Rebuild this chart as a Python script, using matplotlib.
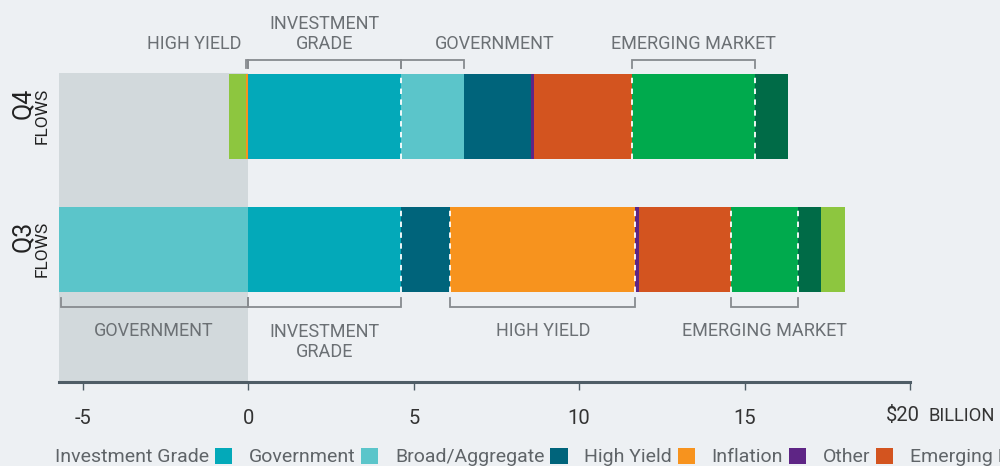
import matplotlib
matplotlib.use("Agg")
import matplotlib.pyplot as plt
from matplotlib.patches import Patch, Rectangle

# ---------------- data ----------------
quarters = ["Q3", "Q4"]
categories = ["Investment Grade", "Government", "Broad/Aggregate", "High Yield",
              "Inflation", "Other", "Emerging Market", "Municipal", "Bank Loan"]
q3_flows = [4.61, -5.72, 1.50, 5.59, 0.12, 2.76, 2.03, 0.70, 0.73]
q4_flows = [4.61, 1.90, 2.03, -0.08, 0.09, 2.96, 3.72, 1.00, -0.51]
x_ticks = [-5, 0, 5, 10, 15, 20]
x_tick_labels = ["-5", "0", "5", "10", "15", "$20"]
x_unit = "BILLION"
q3_groups = [("GOVERNMENT", "Government"), ("INVESTMENT\nGRADE", "Investment Grade"),
             ("HIGH YIELD", "High Yield"), ("EMERGING MARKET", "Emerging Market")]
q4_groups = [("HIGH YIELD", "High Yield"), ("INVESTMENT\nGRADE", "Investment Grade"),
             ("GOVERNMENT", "Government"), ("EMERGING MARKET", "Emerging Market")]
q3_dividers = ["Investment Grade", "Broad/Aggregate", "High Yield", "Other", "Emerging Market"]
q4_dividers = ["Investment Grade", "Other", "Emerging Market"]

# ---------------- style ----------------
colors = ["#03a9b9", "#5bc5ca", "#00647b", "#f7931e", "#5e2585",
          "#d3541f", "#00aa4d", "#006b47", "#8dc63f"]
BG = "#edf0f3"
SHADE = "#d2d9dc"
LABEL_C = "#6b7074"
BRACKET_C = "#878b8f"
AXIS_C = "#4f5d66"
TICK_C = "#333333"
LEG_C = "#5f6468"

plt.rcParams['font.family'] = ['Roboto', 'DejaVu Sans']

fig = plt.figure(figsize=(10, 4.66), dpi=100, facecolor=BG)
ax = fig.add_axes([0.059, (466 - 382) / 466, 0.851, 382 / 466])
ax.set_facecolor("none")

xmin, xmax = -5.72, 20
ax.set_xlim(xmin, xmax)
ax.set_ylim(-0.995, 1.873)
ybot = ax.get_ylim()[0]

bar_h = 0.64
ypos = {"Q3": 0, "Q4": 1}
flows = {"Q3": q3_flows, "Q4": q4_flows}
groups = {"Q3": q3_groups, "Q4": q4_groups}
dividers = {"Q3": q3_dividers, "Q4": q4_dividers}

# shaded negative region
ax.add_patch(Rectangle((xmin, ybot), -xmin, 1 + bar_h / 2 + 0.006 - ybot,
                       facecolor=SHADE, edgecolor="none", zorder=0))

segments = {}
for q in quarters:
    y = ypos[q]
    pos, neg = 0.0, 0.0
    segs = {}
    for cat, v, c in zip(categories, flows[q], colors):
        if v >= 0:
            left = pos
            pos += v
            segs[cat] = (left, pos)
        else:
            left = neg
            neg += v
            segs[cat] = (neg, left)
        ax.barh(y, v, left=left, height=bar_h, color=c, linewidth=0, zorder=2)
    segments[q] = segs

# dashed dividers
for q in quarters:
    y = ypos[q]
    for cat in dividers[q]:
        x = segments[q][cat][1]
        ax.plot([x, x], [y - bar_h / 2, y + bar_h / 2], color="white", lw=1.3,
                dashes=(3, 3), zorder=3, solid_capstyle="butt")

# brackets and labels
lab_fs = 13
tick_len = 0.062
line_step = 0.158
for q in quarters:
    y = ypos[q]
    top = (q == "Q4")
    for label, cat in groups[q]:
        x0, x1 = segments[q][cat]
        if top:
            yl = y + bar_h / 2 + 0.104
            yt = yl - tick_len
        else:
            yl = y - bar_h / 2 - 0.109
            yt = yl + tick_len
        ax.plot([max(x0, xmin + 0.06), max(x0, xmin + 0.06), x1, x1], [yt, yl, yl, yt],
                color=BRACKET_C, lw=1.3, solid_joinstyle="miter", clip_on=False, zorder=3)
        xc = (x0 + x1) / 2
        ha = "center"
        if top and cat == "High Yield":
            xc, ha = x0 - 0.12, "right"
        if top and cat == "Government":
            xc = xc + 1.9
        nlines = label.count("\n") + 1
        if top:
            yb = y + bar_h / 2 + 0.186
        else:
            yb = y - bar_h / 2 - 0.327 - (nlines - 1) * line_step
        ax.text(xc, yb, label, ha=ha, va="baseline", fontsize=lab_fs, color=LABEL_C,
                linespacing=1.12, clip_on=False)

# quarter labels
for q in quarters:
    y = ypos[q]
    ax.text(-6.82, y + 0.217, q, rotation=90, ha="center", va="top", fontsize=18,
            color="#222222", clip_on=False)
    ax.text(-6.24, y + 0.217, "FLOWS", rotation=90, ha="center", va="top", fontsize=12.5,
            color="#222222", clip_on=False)

# axis
for s in ["top", "right", "left"]:
    ax.spines[s].set_visible(False)
ax.spines["bottom"].set_color(AXIS_C)
ax.spines["bottom"].set_linewidth(2.2)
ax.set_yticks([])
ax.set_xticks(x_ticks)
ax.set_xticklabels([t if i < len(x_tick_labels) - 1 else "" for i, t in enumerate(x_tick_labels)])
ax.tick_params(axis="x", direction="out", length=6, width=1, color=AXIS_C,
               labelsize=14.5, labelcolor=TICK_C, pad=13.5)
ax.text(x_ticks[-1] - 0.21, ybot - 0.29, x_tick_labels[-1], ha="center",
        va="baseline", fontsize=14.5, color=TICK_C, clip_on=False)
ax.text(x_ticks[-1] + 0.55, ybot - 0.29, x_unit, ha="left",
        va="baseline", fontsize=13.2, color=TICK_C, clip_on=False)

# legend
handles = [Patch(facecolor=c, edgecolor="none") for c in colors]
leg = fig.legend(handles, categories, loc="center left", bbox_to_anchor=(0.055, 1 - 457 / 466),
                 ncol=len(categories), markerfirst=False, frameon=False, fontsize=14,
                 handlelength=0.88, handleheight=0.88, handletextpad=0.3,
                 columnspacing=0.86, borderpad=0, borderaxespad=0)
for t in leg.get_texts():
    t.set_color(LEG_C)

fig.savefig("out.png", dpi=100, facecolor=BG)
